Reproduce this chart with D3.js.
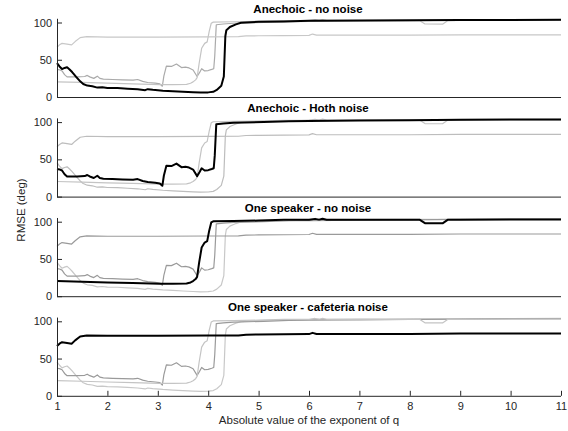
<!DOCTYPE html>
<html>
<head>
<meta charset="utf-8">
<script src="https://cdn.jsdelivr.net/npm/d3@7"></script>
<style>
  body { margin: 0; background: #fff; }
  svg { font-family: "Liberation Sans", Arial, sans-serif; }
</style>
</head>
<body>
<div id="chart"></div>
<script>
// panel titles, one panel per condition
var titles = ['Anechoic - no noise', 'Anechoic - Hoth noise', 'One speaker - no noise', 'One speaker - cafeteria noise']
var xTicks = [1, 2, 3, 4, 5, 6, 7, 8, 9, 10, 11]
var yTicks = [0, 50, 100]

// RMSE (deg) vs |exponent of q| as [x, y]
var anechoicNoNoise = [[1,45.5],[1.05,41],[1.1,37.5],[1.15,39],[1.2,40],[1.25,37],[1.3,33.5],[1.38,27],[1.46,21],[1.52,17.5],[1.6,15.3],[1.7,14.5],[1.8,12.6],[1.9,13],[2.0,12.2],[2.2,12],[2.4,11.2],[2.6,10.5],[2.75,9.2],[2.8,10.5],[2.9,9.6],[3.1,8.5],[3.3,7.7],[3.5,7],[3.7,6.3],[3.85,5.9],[4.0,6.2],[4.1,7],[4.17,9.5],[4.26,15],[4.31,27.5],[4.34,81.5],[4.36,89.6],[4.43,94],[4.55,97.5],[4.65,99.6],[5,101],[5.5,101.5],[6,102.2],[7,102.8],[8,103],[9,103.3],[10,103.5],[11,103.8]]
var anechoicHoth = [[1,37],[1.05,36.5],[1.1,35],[1.15,30],[1.2,27],[1.4,27],[1.55,27.5],[1.6,29],[1.65,27],[1.73,25],[1.8,28],[1.85,25],[1.92,24],[2.1,23.5],[2.3,23],[2.51,22.6],[2.6,23.5],[2.7,21],[2.8,19.5],[2.95,18.5],[3.04,17.7],[3.09,14.5],[3.12,28],[3.17,41.5],[3.27,41],[3.37,44.3],[3.47,39.5],[3.55,40],[3.62,39],[3.7,36.3],[3.78,27.5],[3.83,33],[3.87,38],[3.93,35],[4.0,35.5],[4.07,37],[4.11,38],[4.13,55],[4.16,97],[4.3,98],[4.5,99],[5.1,100],[5.6,101.3],[6,101.5],[7,102],[8,102.5],[9,103],[10,103.5],[11,103.5]]
var oneSpeakerNoNoise = [[1,20.3],[1.5,19.5],[2,18.5],[2.5,17.7],[3.04,16.7],[3.3,16.7],[3.57,17],[3.65,18.5],[3.7,20.3],[3.75,23],[3.78,26],[3.82,45],[3.87,65.4],[3.93,72],[3.98,74],[4.02,88],[4.06,99],[4.1,100.5],[4.5,101],[5,101.5],[5.5,102.5],[6,102.7],[6.12,103.8],[6.2,102.8],[6.27,104],[6.35,102.7],[7,102.5],[8,102.5],[8.2,102.5],[8.3,98],[8.65,97.8],[8.75,102.5],[9,102.7],[10,102.8],[11,103]]
var oneSpeakerCafeteria = [[1,66.8],[1.05,70],[1.1,72],[1.2,71],[1.29,70],[1.36,74.4],[1.46,79.7],[1.59,81],[2,80.5],[3,80.5],[4,80.8],[4.6,81],[4.75,82],[5,82.2],[5.5,82.5],[6,82.8],[6.07,84.5],[6.15,83],[7,83],[8,83],[9,83.5],[10,83.5],[11,83.5]]

var series = [anechoicNoNoise, anechoicHoth, oneSpeakerNoNoise, oneSpeakerCafeteria]
// line colour of each series in each panel (the panel's own series is black)
var panelColors = [
	['#000', '#aaa', '#c4c4c4', '#c8c8c8'],
	['#bdbdbd', '#000', '#c4c4c4', '#bdbdbd'],
	['#c8c8c8', '#9a9a9a', '#000', '#9a9a9a'],
	['#c8c8c8', '#9a9a9a', '#c4c4c4', '#000']
]

var W = 568, H = 431
var left = 57, right = 561
var panelStep = 99.6, firstBase = 97, unit = 74.5 / 100

var svg = d3.select('#chart').append('svg').attr('width', W).attr('height', H)
var x = d3.scaleLinear().domain([1, 11]).range([left, right])
var ink = '#262626'

titles.forEach(function (title, i) {
	var base = firstBase + i * panelStep
	var y = d3.scaleLinear().domain([0, 100]).range([base, base - 100 * unit])
	var g = svg.append('g')

	// lines, grey first then black on top
	var line = d3.line().x(function (d) { return x(d[0]) }).y(function (d) { return y(d[1]) })
	var order = [0, 1, 2, 3].filter(function (k) { return k != i }).concat([i])
	order.forEach(function (k) {
		g.append('path')
			.attr('d', line(series[k]))
			.attr('fill', 'none')
			.attr('stroke', panelColors[i][k])
			.attr('stroke-width', k == i ? 2 : 1.2)
			.attr('stroke-linejoin', 'round')
	})

	// y axis, ticks pointing inward
	var yAxis = d3.axisLeft(y).tickValues(yTicks).tickSize(-5).tickPadding(5)
	var ya = g.append('g').attr('transform', 'translate(' + left + ',0)').call(yAxis)
	ya.select('.domain').attr('d', 'M0.5,' + (base + 0.5) + 'V' + (base - 105 * unit))
	ya.selectAll('line').attr('stroke', ink)
	ya.select('.domain').attr('stroke', ink)
	ya.selectAll('text').attr('fill', ink).style('font-size', '11px').attr('font-family', null)

	// x axis line (labels only on the last panel)
	if (i == titles.length - 1) {
		var xAxis = d3.axisBottom(x).tickValues(xTicks).tickSize(-5).tickPadding(6)
		var xa = g.append('g').attr('transform', 'translate(0,' + base + ')').call(xAxis)
		xa.select('.domain').attr('d', 'M' + left + ',0.5H' + right).attr('stroke', ink)
		xa.selectAll('line').attr('stroke', ink)
		xa.selectAll('text').attr('fill', ink).style('font-size', '11px').attr('font-family', null)
	} else {
		g.append('line').attr('x1', left).attr('x2', right)
			.attr('y1', base + 0.5).attr('y2', base + 0.5).attr('stroke', ink)
	}

	g.append('text')
		.attr('x', (left + right) / 2 - 1).attr('y', base - 100 * unit - 10)
		.attr('text-anchor', 'middle')
		.style('font-size', '11.5px').style('font-weight', 'bold')
		.text(title)
})

svg.append('text')
	.attr('x', (left + right) / 2).attr('y', 424)
	.attr('text-anchor', 'middle').attr('fill', ink)
	.style('font-size', '11.5px')
	.text('Absolute value of the exponent of q')

svg.append('text')
	.attr('transform', 'translate(25,210) rotate(-90)')
	.attr('text-anchor', 'middle').attr('fill', ink)
	.style('font-size', '11.5px')
	.text('RMSE (deg)')
</script>
</body>
</html>
